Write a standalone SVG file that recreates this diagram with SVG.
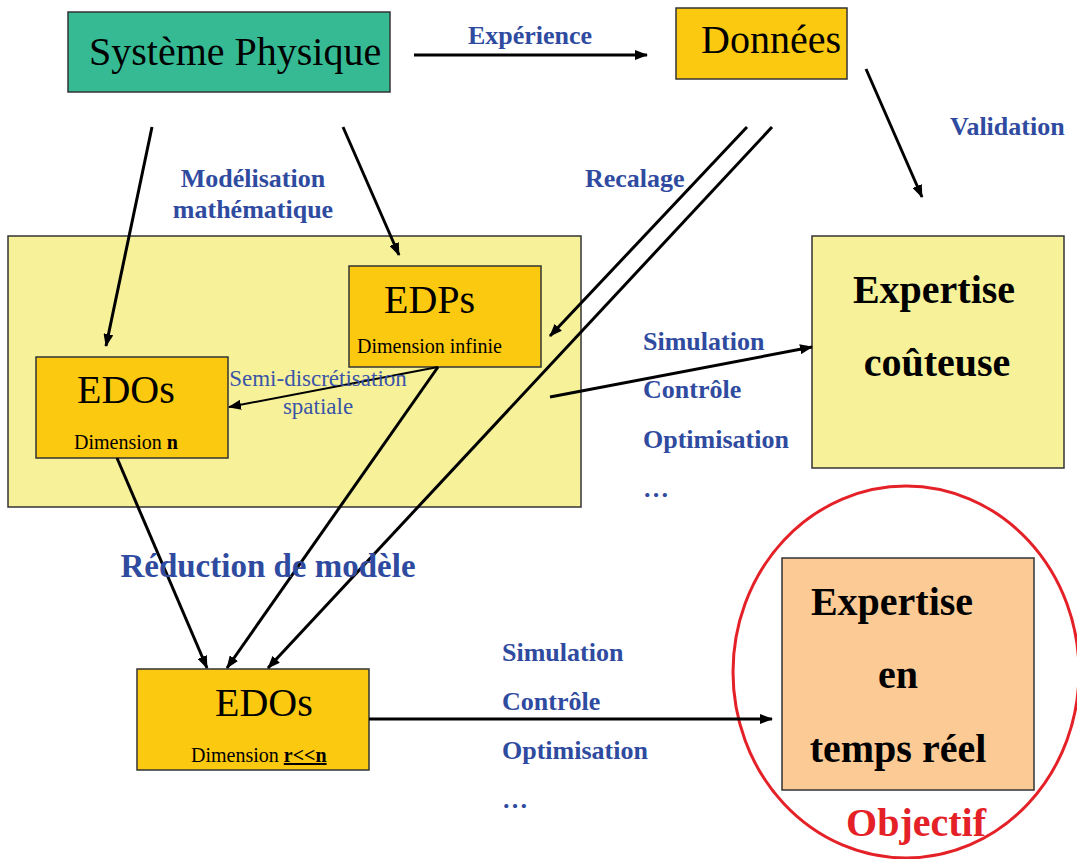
<svg xmlns="http://www.w3.org/2000/svg" width="1077" height="859" viewBox="0 0 1077 859">
<defs>
<marker id="ah" markerUnits="userSpaceOnUse" markerWidth="13" markerHeight="10" refX="12" refY="5" orient="auto">
<path d="M0,0 L13,5 L0,10 z" fill="#000"/>
</marker>
<style>
.box{stroke:#333;stroke-width:1.5}
.t{font-family:"Liberation Serif","Times New Roman",serif;fill:#000}
.lbl{font-family:"Liberation Serif","Times New Roman",serif;font-weight:bold;font-size:26px;fill:#2f4b9f}
.big{font-size:40px}
.small{font-size:20px}
.b{font-weight:bold}
.c line{stroke:#000;stroke-width:3;marker-end:url(#ah)}
</style>
</defs>
<rect width="1077" height="859" fill="#fff"/>
<g id="modeles">
<rect class="box" x="8" y="236" width="573" height="271" fill="#f7f29a"/>
</g>
<g id="systeme">
<rect class="box" x="68" y="12" width="322" height="80" fill="#35ba94"/>
<text class="t big" x="89" y="65">Système Physique</text>
</g>
<g id="donnees">
<rect class="box" x="676" y="8" width="171" height="71" fill="#fcc911"/>
<text class="t big" x="701" y="53">Données</text>
</g>
<g id="edps">
<rect class="box" x="349" y="266" width="192" height="101" fill="#fcc911"/>
<text class="t big" x="384" y="313">EDPs</text>
<text class="t small" x="357" y="353">Dimension infinie</text>
</g>
<g id="edos">
<rect class="box" x="36" y="357" width="192" height="101" fill="#fcc911"/>
<text class="t big" x="77" y="403">EDOs</text>
<text class="t small" x="74" y="449">Dimension <tspan class="b">n</tspan></text>
</g>
<g id="edos-reduit">
<rect class="box" x="137" y="669" width="232" height="101" fill="#fcc911"/>
<text class="t big" x="215" y="716">EDOs</text>
<text class="t small" x="191" y="762">Dimension <tspan class="b" text-decoration="underline">r&lt;&lt;n</tspan></text>
</g>
<g id="expertise-couteuse">
<rect class="box" x="812" y="236" width="252" height="232" fill="#f7f29a"/>
<text class="t big b" x="934" y="303" text-anchor="middle">Expertise</text>
<text class="t big b" x="937" y="376" text-anchor="middle">coûteuse</text>
</g>
<g id="expertise-temps-reel">
<rect class="box" x="782" y="558" width="252" height="232" fill="#fbca95"/>
<text class="t big b" x="892" y="615" text-anchor="middle">Expertise</text>
<text class="t big b" x="898" y="688" text-anchor="middle">en</text>
<text class="t big b" x="898" y="762" text-anchor="middle">temps réel</text>
</g>
<g id="objectif">
<ellipse cx="906" cy="672" rx="173" ry="186" fill="none" stroke="#e52128" stroke-width="3"/>
<text class="t big b" x="916" y="836" text-anchor="middle" style="fill:#e52128">Objectif</text>
</g>
<g id="connectors" class="c">
<line x1="414" y1="55" x2="647" y2="55"/>
<line x1="152" y1="127" x2="106" y2="346"/>
<line x1="343" y1="127" x2="399" y2="255"/>
<line x1="866" y1="69" x2="922" y2="197"/>
<line x1="747" y1="127" x2="550" y2="336"/>
<line x1="772" y1="127" x2="268" y2="668"/>
<line x1="438" y1="367" x2="229" y2="407" style="stroke-width:2"/>
<line x1="550" y1="397" x2="812" y2="347"/>
<line x1="117" y1="458" x2="207" y2="668"/>
<line x1="438" y1="367" x2="227" y2="668"/>
<line x1="369" y1="719" x2="772" y2="719"/>
</g>
<g id="labels">
<text class="lbl" x="530" y="44" text-anchor="middle">Expérience</text>
<text class="lbl" x="950" y="135">Validation</text>
<text class="lbl" x="585" y="187">Recalage</text>
<text class="lbl" x="253" y="187" text-anchor="middle">Modélisation</text>
<text class="lbl" x="253" y="218" text-anchor="middle">mathématique</text>
<text class="t" x="318" y="386" text-anchor="middle" style="font-size:23px;fill:#3a55a8">Semi-discrétisation</text>
<text class="t" x="318" y="414" text-anchor="middle" style="font-size:23px;fill:#3a55a8">spatiale</text>
<text class="lbl" x="643" y="350">Simulation</text>
<text class="lbl" x="643" y="398">Contrôle</text>
<text class="lbl" x="643" y="448">Optimisation</text>
<text class="lbl" x="643" y="497">…</text>
<text class="lbl" x="268" y="577" text-anchor="middle" style="font-size:33px">Réduction de modèle</text>
<text class="lbl" x="502" y="661">Simulation</text>
<text class="lbl" x="502" y="710">Contrôle</text>
<text class="lbl" x="502" y="759">Optimisation</text>
<text class="lbl" x="502" y="808">…</text>
</g>
</svg>
